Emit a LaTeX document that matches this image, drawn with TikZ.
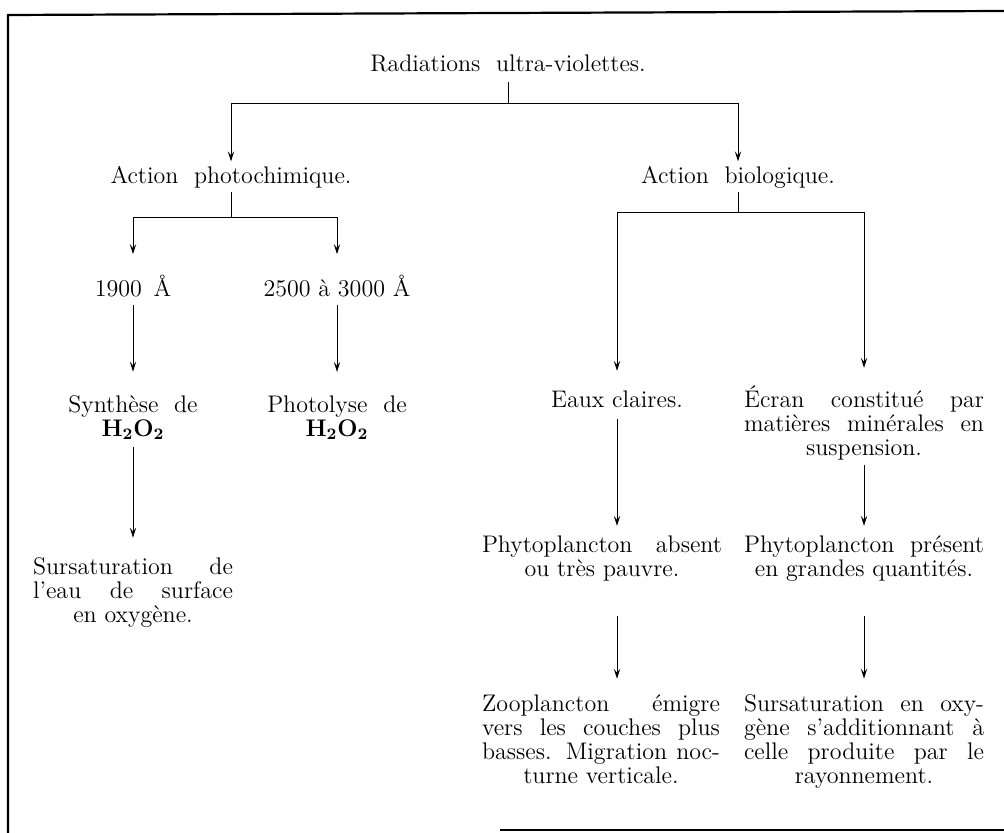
\documentclass[tikz,border=0pt]{standalone}
\usetikzlibrary{arrows.meta}

% ligne justifiee de largeur fixe
\newcommand{\jl}[2][120pt]{\makebox[#1][s]{#2}}

\tikzset{
  txt/.style={anchor=base, align=center, inner sep=1.5pt,
    font=\fontsize{12}{12}\selectfont},
  arr/.style={-{Stealth[length=5pt,width=3.2pt,inset=2pt]}, shorten >=#1},
  arr/.default=0pt,
}

\begin{document}
\begin{tikzpicture}[x=0.5pt,y=-0.5pt,line width=0.5pt]
\useasboundingbox (0,0) rectangle (1004,833);

% cadre
\draw[line width=1.1pt] (8,833) -- (8,15) -- (1004,11);
\draw[line width=1.1pt] (500,830) -- (1004,830);

% niveau 1
\node[txt] (uv) at (508,72) {Radiations~ ultra-violettes.};
\node[txt] (photo) at (231,184) {Action~ photochimique.};
\node[txt] (bio) at (738,184) {Action~ biologique.};
\coordinate (uvbar) at (508,104);
\draw[shorten <=3pt] (uv) -- (uvbar);
\draw[arr=1pt] (uvbar) -| (photo);
\draw[arr=1pt] (uvbar) -| (bio);

% action photochimique (ancre base = derniere ligne)
\node[txt] (a1900) at (133,297) {1900\ \,Å};
\node[txt] (a2500) at (337,297) {2500 à 3000 Å};
\node[txt] (synth) at (133,436) {Synthèse~ de\\$\mathbf{H_2O_2}$};
\node[txt] (photol) at (337,436) {Photolyse~ de\\$\mathbf{H_2O_2}$};
\node[txt] (sursat) at (133,622) {\jl[100pt]{Sursaturation de}\\
  \jl[100pt]{l'eau de surface}\\en oxygène.};
\coordinate (photobar) at (231,218);
\draw (photo) -- (photobar);
\draw[arr=9pt] (photobar) -| (a1900);
\draw[arr=9pt] (photobar) -| (a2500);
\draw[arr=10pt, shorten <=2pt] (a1900) -- (synth);
\draw[arr=10pt, shorten <=2pt] (a2500) -- (photol);
\draw[arr=8pt, shorten <=2pt] (synth) -- (sursat);

% action biologique
\node[txt] (claires) at (617,407) {Eaux claires.};
\node[txt] (ecran) at (864,455) {\jl{Écran~ constitué~ par}\\
  \jl{matières minérales en}\\suspension.};
\node[txt] (pauvre) at (602,576) {\jl{Phytoplancton absent}\\ou très pauvre.};
\node[txt] (present) at (864,576) {\jl{Phytoplancton présent}\\en grandes quantités.};
\node[txt] (zoo) at (601,783) {\jl[119pt]{Zooplancton émigre}\\
  \jl[119pt]{vers les couches plus}\\\jl[119pt]{basses. Migration noc-}\\turne verticale.};
\node[txt] (oxy) at (864,783) {\jl{Sursaturation en oxy-}\\
  \jl{gène s'additionnant à}\\\jl{celle produite par le}\\rayonnement.};
\coordinate (biobar) at (738,213);
\draw (bio) -- (biobar);
\draw[arr=8pt] (biobar) -| (claires);
\draw[arr=7pt] (biobar) -| (ecran);
\draw[arr=3pt, shorten <=4pt] (claires) -- (claires |- pauvre.north);
\draw[arr=3pt, shorten <=1pt] (ecran) -- (present);
\draw[arr=6pt, shorten <=16pt] (claires |- pauvre.south) -- (claires |- zoo.north);
\draw[arr=6pt, shorten <=16pt] (present) -- (oxy);
\end{tikzpicture}
\end{document}
